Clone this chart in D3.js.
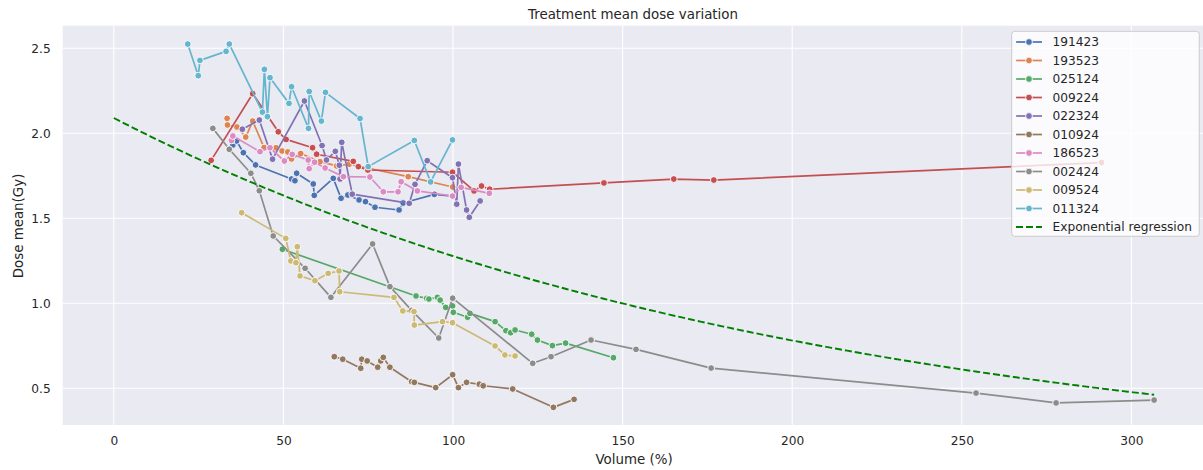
<!DOCTYPE html>
<html>
<head>
<meta charset="utf-8">
<script src="https://cdn.jsdelivr.net/npm/d3@7"></script>
<style>
  html, body { margin: 0; padding: 0; background: #ffffff; }
  svg { display: block; font-family: "DejaVu Sans", sans-serif; }
</style>
</head>
<body>
<svg id="chart" width="1203" height="470"></svg>
<script>
// ---------- data ----------
const seriesIds = ["191423", "193523", "025124", "009224", "022324", "010924", "186523", "002424", "009524", "011324"];
const seriesColors = ["#4C72B0", "#DD8452", "#55A868", "#C44E52", "#8172B3", "#937860", "#DA8BC3", "#8C8C8C", "#CCB974", "#64B5CD"];

const vol_191423 = [35.1, 36.2, 38.2, 41.8, 52.4, 53.4, 53.9, 58.8, 59.1, 64.7, 67.0, 69.0, 72.3, 74.2, 77.0, 84.1, 85.3, 94.5, 99.9];
const dose_191423 = [1.931, 1.955, 1.886, 1.814, 1.731, 1.721, 1.765, 1.702, 1.635, 1.735, 1.618, 1.637, 1.608, 1.598, 1.565, 1.549, 1.59, 1.641, 1.631];

const vol_193523 = [33.4, 33.5, 36.3, 38.9, 40.95, 44.3, 47.8, 49.6, 51.3, 52.4, 55.1, 60.8, 65.7, 69.4, 86.8, 99.9];
const dose_193523 = [2.088, 2.049, 2.037, 1.978, 2.072, 1.916, 1.915, 1.896, 1.89, 1.849, 1.881, 1.833, 1.808, 1.818, 1.745, 1.684];

const vol_025124 = [49.7, 89.1, 92.25, 92.9, 95.4, 96.2, 97.85, 99.9, 100.1, 104.3, 105.0, 112.4, 115.6, 117.0, 118.3, 123.2, 124.9, 129.3, 133.2, 147.3];
const dose_025124 = [1.318, 1.043, 1.029, 1.025, 1.035, 1.019, 0.976, 0.984, 0.947, 0.918, 0.941, 0.892, 0.839, 0.827, 0.843, 0.818, 0.784, 0.751, 0.766, 0.68];

const vol_009224 = [28.7, 40.95, 48.5, 50.8, 58.6, 59.8, 70.6, 72.1, 74.9, 99.85, 106.2, 108.4, 110.8, 144.5, 165.1, 176.9, 291.2];
const dose_009224 = [1.841, 2.233, 2.009, 1.964, 1.915, 1.877, 1.835, 1.804, 1.784, 1.771, 1.661, 1.69, 1.671, 1.708, 1.731, 1.725, 1.828];

const vol_022324 = [37.9, 42.9, 46.8, 56.2, 61.4, 62.7, 65.3, 66.5, 66.7, 67.2, 70.3, 87.1, 88.8, 92.4, 99.85, 101.1, 101.6, 104.0, 104.8, 108.0];
const dose_022324 = [2.024, 2.078, 1.848, 2.19, 1.928, 1.843, 1.894, 1.812, 1.731, 1.947, 1.642, 1.588, 1.70, 1.839, 1.739, 1.583, 1.819, 1.549, 1.506, 1.602];

const vol_010924 = [65.0, 67.5, 72.8, 73.1, 74.7, 77.8, 78.7, 79.45, 81.4, 87.8, 88.6, 94.9, 99.9, 101.6, 104.0, 107.75, 108.9, 117.6, 129.6, 135.7];
const dose_010924 = [0.686, 0.671, 0.618, 0.671, 0.661, 0.624, 0.661, 0.682, 0.624, 0.539, 0.535, 0.504, 0.58, 0.504, 0.535, 0.524, 0.515, 0.496, 0.388, 0.435];

const vol_186523 = [34.7, 35.1, 43.1, 46.05, 50.3, 52.6, 57.3, 57.6, 59.2, 62.3, 67.7, 75.5, 79.45, 83.8, 84.7, 89.5, 99.85, 102.4, 110.7];
const dose_186523 = [1.958, 1.984, 1.892, 1.915, 1.837, 1.876, 1.843, 1.792, 1.83, 1.796, 1.745, 1.743, 1.656, 1.656, 1.715, 1.661, 1.631, 1.682, 1.647];

const vol_002424 = [29.2, 34.05, 40.4, 42.9, 47.0, 56.4, 64.0, 76.3, 81.4, 87.8, 95.8, 99.9, 123.5, 128.9, 140.7, 153.95, 176.1, 254.2, 277.8, 306.7];
const dose_002424 = [2.029, 1.906, 1.765, 1.662, 1.396, 1.206, 1.035, 1.349, 1.098, 0.958, 0.796, 1.03, 0.647, 0.686, 0.784, 0.729, 0.619, 0.472, 0.414, 0.431];

const vol_009524 = [37.7, 50.7, 52.2, 53.7, 54.1, 54.9, 59.3, 63.2, 66.4, 66.6, 82.6, 85.2, 88.5, 88.6, 96.9, 99.85, 112.4, 115.3, 118.3];
const dose_009524 = [1.533, 1.382, 1.249, 1.239, 1.333, 1.161, 1.133, 1.176, 1.19, 1.068, 1.035, 0.955, 0.951, 0.872, 0.892, 0.886, 0.749, 0.696, 0.69];

const vol_011324 = [21.8, 24.9, 25.4, 33.1, 34.05, 43.8, 44.4, 45.3, 46.05, 51.65, 52.4, 57.4, 57.6, 61.2, 62.4, 72.6, 75.0, 88.6, 93.4, 99.85];
const dose_011324 = [2.525, 2.339, 2.429, 2.482, 2.525, 2.125, 2.376, 2.098, 2.327, 2.176, 2.274, 2.029, 2.246, 2.072, 2.241, 2.087, 1.804, 1.958, 1.714, 1.961];

// exponential regression y = a * exp(b * x), fitted parameters
const regA = 2.09;
const regB = -0.00492;
const regXRange = [0, 306.7];

const xTicks = [0, 50, 100, 150, 200, 250, 300];
const yTicks = [0.5, 1.0, 1.5, 2.0, 2.5];

const chartTitle = "Treatment mean dose variation";
const xLabel = "Volume (%)";
const yLabel = "Dose mean(Gy)";
const regLabel = "Exponential regression";

const volumes = [vol_191423, vol_193523, vol_025124, vol_009224, vol_022324, vol_010924, vol_186523, vol_002424, vol_009524, vol_011324];
const doses = [dose_191423, dose_193523, dose_025124, dose_009224, dose_022324, dose_010924, dose_186523, dose_002424, dose_009524, dose_011324];

const series = seriesIds.map((id, i) => ({
  id, color: seriesColors[i],
  points: volumes[i].map((v, j) => ({ x: v, y: doses[i][j] }))
}));

// ---------- layout ----------
const plot = { left: 62.7, right: 1203, top: 25.7, bottom: 425 };
const svg = d3.select("#chart");
const textColor = "#262626";

const x = d3.scaleLinear().domain([0, 300]).range([113.8, 1131.4]);
const y = d3.scaleLinear().domain([0.5, 2.5]).range([388.3, 48.3]);

// background
svg.append("rect")
  .attr("x", plot.left).attr("y", plot.top)
  .attr("width", plot.right - plot.left).attr("height", plot.bottom - plot.top)
  .attr("fill", "#EAEAF2");

svg.append("defs").append("clipPath").attr("id", "clip")
  .append("rect")
  .attr("x", plot.left).attr("y", plot.top)
  .attr("width", plot.right - plot.left).attr("height", plot.bottom - plot.top);

// grid
const grid = svg.append("g");
grid.selectAll(".vg").data(xTicks).enter().append("line")
  .attr("x1", d => x(d)).attr("x2", d => x(d))
  .attr("y1", plot.top).attr("y2", plot.bottom)
  .attr("stroke", "#ffffff").attr("stroke-width", 1.1);
grid.selectAll(".hg").data(yTicks).enter().append("line")
  .attr("x1", plot.left).attr("x2", plot.right)
  .attr("y1", d => y(d)).attr("y2", d => y(d))
  .attr("stroke", "#ffffff").attr("stroke-width", 1.1);

// axes (tick labels only, via d3 axes)
const xAxis = d3.axisBottom(x).tickValues(xTicks).tickFormat(d3.format("d")).tickSize(0).tickPadding(11);
const yAxis = d3.axisLeft(y).tickValues(yTicks).tickFormat(d3.format(".1f")).tickSize(0).tickPadding(12);

const gx = svg.append("g").attr("transform", `translate(0,${plot.bottom})`).call(xAxis);
const gy = svg.append("g").attr("transform", `translate(${plot.left},0)`).call(yAxis);
[gx, gy].forEach(g => {
  g.select(".domain").remove();
  g.selectAll("text").attr("fill", textColor).style("font-size", "12.2px").style("font-family", "DejaVu Sans");
});

// series
const line = d3.line().x(d => x(d.x)).y(d => y(d.y));
const plotG = svg.append("g").attr("clip-path", "url(#clip)");
series.forEach(s => {
  const g = plotG.append("g");
  g.append("path").datum(s.points)
    .attr("d", line).attr("fill", "none")
    .attr("stroke", s.color).attr("stroke-width", 1.7)
    .attr("stroke-linejoin", "round").attr("stroke-linecap", "round");
  g.selectAll("circle").data(s.points).enter().append("circle")
    .attr("cx", d => x(d.x)).attr("cy", d => y(d.y)).attr("r", 3.4)
    .attr("fill", s.color).attr("stroke", "#ffffff").attr("stroke-width", 0.9);
});

// regression curve
const regPts = d3.range(0, 201).map(i => {
  const xv = regXRange[0] + (regXRange[1] - regXRange[0]) * i / 200;
  return { x: xv, y: regA * Math.exp(regB * xv) };
});
plotG.append("path").datum(regPts)
  .attr("d", line).attr("fill", "none")
  .attr("stroke", "#008000").attr("stroke-width", 1.9)
  .attr("stroke-dasharray", "7,3");

// title & labels
svg.append("text").attr("x", 633).attr("y", 19).attr("text-anchor", "middle")
  .attr("fill", textColor).style("font-size", "13.4px").text(chartTitle);
svg.append("text").attr("x", 634).attr("y", 464).attr("text-anchor", "middle")
  .attr("fill", textColor).style("font-size", "13.4px").text(xLabel);
svg.append("text").attr("transform", "translate(23,226) rotate(-90)").attr("text-anchor", "middle")
  .attr("fill", textColor).style("font-size", "13.4px").text(yLabel);

// legend
const lg = svg.append("g");
lg.append("rect").attr("x", 1011.7).attr("y", 31.3).attr("width", 187.6).attr("height", 205)
  .attr("rx", 3).attr("ry", 3)
  .attr("fill", "#ffffff").attr("fill-opacity", 0.8)
  .attr("stroke", "#cccccc").attr("stroke-width", 1);
const legendItems = series.map(s => ({ label: s.id, color: s.color, dashed: false }))
  .concat([{ label: regLabel, color: "#008000", dashed: true }]);
legendItems.forEach((it, i) => {
  const cy = 42 + i * 18.5;
  const g = lg.append("g");
  g.append("line").attr("x1", 1016).attr("x2", 1042).attr("y1", cy).attr("y2", cy)
    .attr("stroke", it.color).attr("stroke-width", it.dashed ? 1.9 : 1.7)
    .attr("stroke-dasharray", it.dashed ? "7,3" : null);
  if (!it.dashed) {
    g.append("circle").attr("cx", 1029).attr("cy", cy).attr("r", 3.4)
      .attr("fill", it.color).attr("stroke", "#ffffff").attr("stroke-width", 0.9);
  }
  g.append("text").attr("x", 1052.5).attr("y", cy + 4.4)
    .attr("fill", textColor).style("font-size", "12.2px").text(it.label);
});
</script>
</body>
</html>
